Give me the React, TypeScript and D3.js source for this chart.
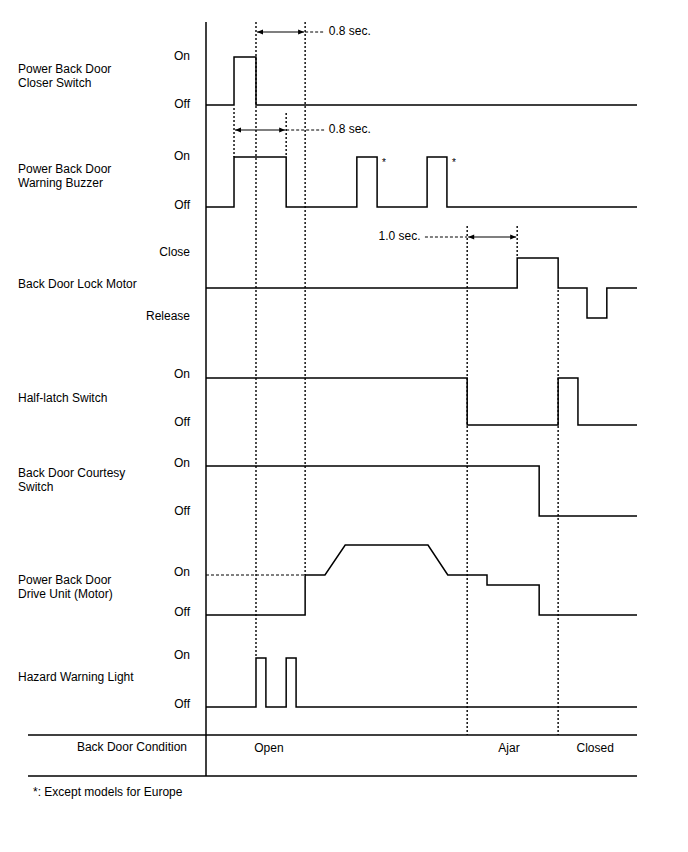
import React, { useEffect } from "react";
import * as d3 from "d3";

// time events, in 0..100 units across the plot
const signalNames = [
  ["Power Back Door", "Closer Switch"],
  ["Power Back Door", "Warning Buzzer"],
  ["Back Door Lock Motor"],
  ["Half-latch Switch"],
  ["Back Door Courtesy", "Switch"],
  ["Power Back Door", "Drive Unit (Motor)"],
  ["Hazard Warning Light"],
];
const levelLabels = [
  ["On", "Off"],
  ["On", "Off"],
  ["Close", "Release"],
  ["On", "Off"],
  ["On", "Off"],
  ["On", "Off"],
  ["On", "Off"],
];

const closerSwitch: [number, number][] = [[0, 0], [6.5, 1], [11.6, 0], [100, 0]];
const warningBuzzer: [number, number][] = [
  [0, 0], [6.5, 1], [18.6, 0], [35, 1], [39.7, 0], [51.3, 1], [55.9, 0], [100, 0],
];
const lockMotor: [number, number][] = [[0, 0], [72.2, 1], [81.7, 0], [88.4, -1], [93, 0], [100, 0]];
const halfLatch: [number, number][] = [[0, 1], [60.6, 0], [81.7, 1], [86.3, 0], [100, 0]];
const courtesy: [number, number][] = [[0, 1], [77.3, 0], [100, 0]];
const driveUnit: [number, number][] = [
  [0, 0], [23, 0], [23, 1], [27.6, 1], [32.3, 1.75], [51.5, 1.75], [56.1, 1],
  [65.2, 1], [65.2, 0.75], [77.3, 0.75], [77.3, 0], [100, 0],
];
const hazard: [number, number][] = [[0, 0], [11.6, 1], [13.9, 0], [18.6, 1], [20.9, 0], [100, 0]];

const conditions = [
  { label: "Open", t: 14.6 },
  { label: "Ajar", t: 70.3 },
  { label: "Closed", t: 90.3 },
];
const asterisks = [39.7, 55.9];

export default function App() {
  useEffect(() => {
    document.body.style.margin = "0";
  }, []);

  const width = 688;
  const height = 852;
  const x = d3.scaleLinear().domain([0, 100]).range([206, 637]);

  // per row: value -> y
  const rows = [
    { data: closerSwitch, y: d3.scaleLinear().domain([0, 1]).range([105, 57]), step: true },
    { data: warningBuzzer, y: d3.scaleLinear().domain([0, 1]).range([207, 157]), step: true },
    { data: lockMotor, y: d3.scaleLinear().domain([-1, 1]).range([318, 258]), step: true },
    { data: halfLatch, y: d3.scaleLinear().domain([0, 1]).range([425, 378]), step: true },
    { data: courtesy, y: d3.scaleLinear().domain([0, 1]).range([516, 466]), step: true },
    { data: driveUnit, y: d3.scaleLinear().domain([0, 1]).range([615, 575]), step: false },
    { data: hazard, y: d3.scaleLinear().domain([0, 1]).range([707, 658]), step: true },
  ];
  const nameY = [77, 177, 285, 399, 481, 588, 678];
  const levelLabelY = [
    [57, 105], [157, 206], [253, 317], [375, 423], [464, 512], [573, 613], [656, 705],
  ];

  // dotted guides: time, y top, y bottom
  const guides = [
    { t: 11.6, y0: 22, y1: 658 },
    { t: 23, y0: 22, y1: 575 },
    { t: 6.5, y0: 108, y1: 157 },
    { t: 18.6, y0: 113, y1: 157 },
    { t: 60.6, y0: 226, y1: 735 },
    { t: 72.2, y0: 226, y1: 258 },
    { t: 81.7, y0: 290, y1: 735 },
  ];
  const spans = [
    { a: 11.6, b: 23, y: 32, label: "0.8 sec.", leaderFrom: 23, leaderTo: 27.4, textT: 28.5, anchor: "start" },
    { a: 6.5, b: 18.6, y: 130, label: "0.8 sec.", leaderFrom: 18.6, leaderTo: 27.4, textT: 28.5, anchor: "start" },
    { a: 60.6, b: 72.2, y: 237, label: "1.0 sec.", leaderFrom: 50.8, leaderTo: 60.6, textT: 49.8, anchor: "end" },
  ];

  const font = "'Liberation Sans', Arial, sans-serif";

  return (
    <svg width={width} height={height} style={{ display: "block", background: "#fff" }} fontFamily={font} fontSize={12}>
      <defs>
        <marker id="ah" viewBox="0 0 10 10" refX="10" refY="5" markerWidth="8" markerHeight="6" orient="auto-start-reverse" markerUnits="userSpaceOnUse">
          <path d="M0,1 L10,5 L0,9 Z" fill="#000" />
        </marker>
      </defs>

      {guides.map((g, i) => (
        <line key={"g" + i} x1={x(g.t)} x2={x(g.t)} y1={g.y0} y2={g.y1} stroke="#000" strokeWidth={1.4} strokeDasharray="2,2" />
      ))}

      {/* dashed On reference for drive unit before the motor starts */}
      <line x1={x(0)} x2={x(23)} y1={rows[5].y(1)} y2={rows[5].y(1)} stroke="#000" strokeWidth={1} strokeDasharray="3,2" />

      {spans.map((s, i) => (
        <g key={"s" + i}>
          <line x1={x(s.a) + 1} x2={x(s.b) - 1} y1={s.y} y2={s.y} stroke="#000" strokeWidth={1.2} markerStart="url(#ah)" markerEnd="url(#ah)" />
          <line x1={x(s.leaderFrom)} x2={x(s.leaderTo)} y1={s.y} y2={s.y} stroke="#000" strokeWidth={1} strokeDasharray="3,2" />
          <text x={x(s.textT)} y={s.y} dominantBaseline="middle" textAnchor={s.anchor}>{s.label}</text>
        </g>
      ))}

      {rows.map((r, i) => {
        const line = d3
          .line<[number, number]>()
          .x((d) => x(d[0]))
          .y((d) => r.y(d[1]))
          .curve(r.step ? d3.curveStepAfter : d3.curveLinear);
        return <path key={"r" + i} d={line(r.data) || ""} fill="none" stroke="#000" strokeWidth={1.5} />;
      })}

      {asterisks.map((t, i) => (
        <text key={"a" + i} x={x(t) + 5} y={rows[1].y(1) + 9} fontSize={10}>*</text>
      ))}

      {signalNames.map((lines, i) => (
        <text key={"n" + i} x={18} y={nameY[i] - (lines.length - 1) * 7} dominantBaseline="middle">
          {lines.map((l, j) => (
            <tspan key={j} x={18} dy={j === 0 ? 0 : 14}>{l}</tspan>
          ))}
        </text>
      ))}

      {levelLabels.map((pair, i) => (
        <g key={"l" + i}>
          <text x={190} y={levelLabelY[i][0]} textAnchor="end" dominantBaseline="middle">{pair[0]}</text>
          <text x={190} y={levelLabelY[i][1]} textAnchor="end" dominantBaseline="middle">{pair[1]}</text>
        </g>
      ))}

      {/* axis and condition table */}
      <line x1={206} x2={206} y1={22} y2={776} stroke="#000" strokeWidth={1.5} />
      <line x1={28} x2={637} y1={735} y2={735} stroke="#000" strokeWidth={1.5} />
      <line x1={28} x2={637} y1={776} y2={776} stroke="#000" strokeWidth={1.5} />
      <text x={187} y={748} textAnchor="end" dominantBaseline="middle">Back Door Condition</text>
      {conditions.map((c, i) => (
        <text key={"c" + i} x={x(c.t)} y={749} textAnchor="middle" dominantBaseline="middle">{c.label}</text>
      ))}
      <text x={33} y={793} dominantBaseline="middle">*: Except models for Europe</text>
    </svg>
  );
}
